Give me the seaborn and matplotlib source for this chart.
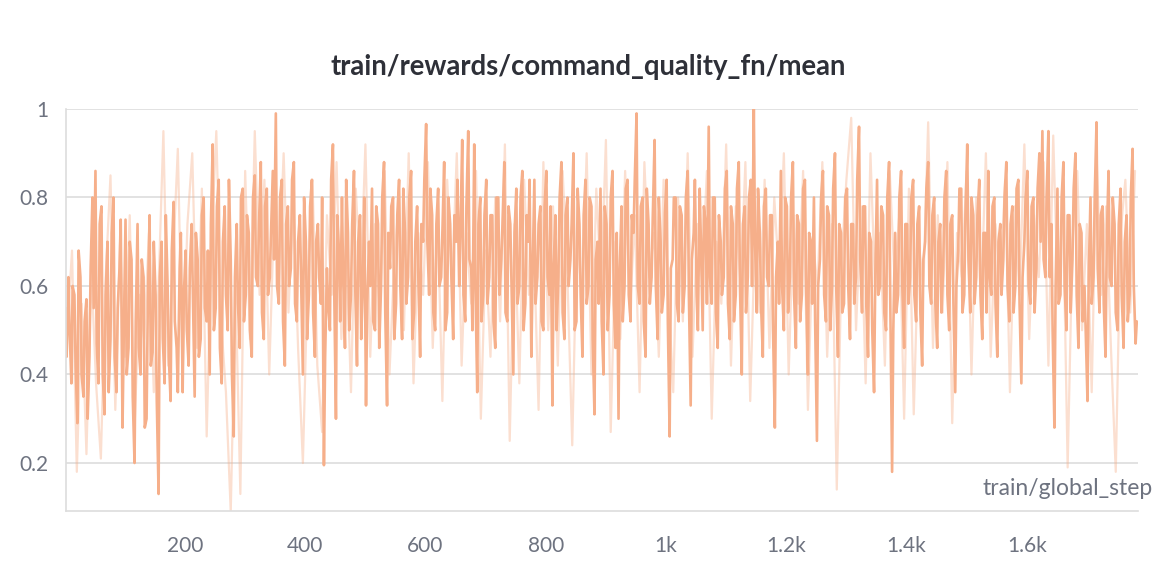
import numpy as np
import pandas as pd
import seaborn as sns
import matplotlib.pyplot as plt

# passos registados (linha forte a cada 5 passos em duas séries intercaladas, linha fraca a cada 8)
passos_forte_a = list(range(1, 1786, 5))
passos_forte_b = list(range(3, 1786, 5))
passos_fraco = list(range(4, 1781, 8))

# valores (linha forte, passos 1, 6, 11, ...)
media_forte_a = [
    0.55, 0.62, 0.38, 0.58, 0.29, 0.62, 0.35, 0.57, 0.44, 0.80, 0.86, 0.38, 0.78, 0.31, 0.70, 0.48, 0.80, 0.36, 0.64, 0.28,
    0.75, 0.46, 0.66, 0.20, 0.74, 0.40, 0.62, 0.30, 0.76, 0.45, 0.58, 0.13, 0.70, 0.38, 0.60, 0.34, 0.79, 0.46, 0.64, 0.36,
    0.68, 0.42, 0.74, 0.35, 0.66, 0.48, 0.80, 0.52, 0.40, 0.92, 0.55, 0.84, 0.38, 0.78, 0.50, 0.66, 0.26, 0.74, 0.46, 0.82,
    0.58, 0.72, 0.44, 0.85, 0.60, 0.88, 0.48, 0.82, 0.62, 0.86, 0.99, 0.56, 0.84, 0.42, 0.78, 0.64, 0.88, 0.52, 0.76, 0.40,
    0.70, 0.58, 0.84, 0.44, 0.74, 0.56, 0.195, 0.64, 0.50, 0.92, 0.30, 0.68, 0.80, 0.46, 0.72, 0.58, 0.86, 0.42, 0.76, 0.62,
    0.33, 0.70, 0.82, 0.50, 0.74, 0.60, 0.88, 0.33, 0.64, 0.80, 0.56, 0.84, 0.48, 0.72, 0.62, 0.86, 0.54, 0.78, 0.44, 0.70,
    0.966, 0.58, 0.76, 0.50, 0.82, 0.62, 0.88, 0.54, 0.74, 0.48, 0.70, 0.60, 0.93, 0.52, 0.95, 0.64, 0.92, 0.36, 0.80, 0.58,
    0.84, 0.62, 0.76, 0.46, 0.80, 0.66, 0.88, 0.52, 0.74, 0.40, 0.82, 0.60, 0.86, 0.56, 0.70, 0.44, 0.84, 0.62, 0.78, 0.50,
    0.86, 0.58, 0.33, 0.76, 0.62, 0.88, 0.48, 0.80, 0.66, 0.90, 0.52, 0.74, 0.44, 0.84, 0.60, 0.78, 0.31, 0.70, 0.82, 0.40,
    0.74, 0.58, 0.86, 0.46, 0.30, 0.78, 0.60, 0.84, 0.52, 0.72, 0.99, 0.56, 0.80, 0.44, 0.74, 0.62, 0.93, 0.48, 0.70, 0.58,
    0.84, 0.26, 0.66, 0.80, 0.52, 0.76, 0.60, 0.86, 0.33, 0.72, 0.58, 0.82, 0.50, 0.74, 0.96, 0.56, 0.80, 0.46, 0.70, 0.62,
    0.86, 0.48, 0.74, 0.58, 0.88, 0.40, 0.78, 0.62, 0.84, 1.00, 0.54, 0.72, 0.44, 0.82, 0.60, 0.76, 0.28, 0.70, 0.86, 0.50,
    0.78, 0.62, 0.88, 0.46, 0.74, 0.58, 0.84, 0.40, 0.70, 0.80, 0.25, 0.66, 0.86, 0.52, 0.76, 0.60, 0.90, 0.44, 0.72, 0.56,
    0.82, 0.48, 0.74, 0.62, 0.96, 0.54, 0.78, 0.44, 0.70, 0.36, 0.84, 0.60, 0.76, 0.50, 0.88, 0.18, 0.72, 0.58, 0.86, 0.46,
    0.74, 0.62, 0.84, 0.52, 0.78, 0.42, 0.70, 0.88, 0.56, 0.80, 0.46, 0.74, 0.64, 0.86, 0.50, 0.76, 0.36, 0.68, 0.82, 0.58,
    0.92, 0.54, 0.76, 0.62, 0.84, 0.48, 0.72, 0.86, 0.58, 0.80, 0.44, 0.74, 0.66, 0.88, 0.52, 0.78, 0.60, 0.84, 0.38, 0.70,
    0.86, 0.56, 0.80, 0.64, 0.90, 0.95, 0.62, 0.95, 0.74, 0.28, 0.82, 0.58, 0.88, 0.50, 0.76, 0.66, 0.90, 0.46, 0.72, 0.60,
    0.34, 0.80, 0.62, 0.97, 0.54, 0.78, 0.44, 0.86, 0.60, 0.74, 0.50, 0.82, 0.46, 0.76, 0.58, 0.91, 0.47,
]

# valores (linha forte, passos 3, 8, 13, ...)
media_forte_b = [
    0.44, 0.50, 0.60, 0.42, 0.68, 0.40, 0.52, 0.30, 0.64, 0.55, 0.47, 0.74, 0.40, 0.58, 0.36, 0.72, 0.44, 0.55, 0.75, 0.48,
    0.40, 0.70, 0.35, 0.52, 0.46, 0.66, 0.28, 0.55, 0.42, 0.70, 0.34, 0.62, 0.48, 0.76, 0.44, 0.68, 0.52, 0.36, 0.72, 0.58,
    0.50, 0.64, 0.58, 0.72, 0.44, 0.76, 0.55, 0.68, 0.74, 0.50, 0.78, 0.46, 0.70, 0.58, 0.84, 0.40, 0.62, 0.56, 0.80, 0.52,
    0.76, 0.50, 0.80, 0.62, 0.74, 0.54, 0.78, 0.58, 0.72, 0.66, 0.60, 0.80, 0.52, 0.74, 0.60, 0.84, 0.56, 0.70, 0.62, 0.80,
    0.48, 0.78, 0.54, 0.70, 0.62, 0.80, 0.44, 0.56, 0.84, 0.60, 0.76, 0.52, 0.62, 0.84, 0.50, 0.74, 0.60, 0.70, 0.48, 0.80,
    0.56, 0.60, 0.52, 0.78, 0.46, 0.80, 0.54, 0.72, 0.78, 0.48, 0.76, 0.60, 0.82, 0.56, 0.80, 0.48, 0.70, 0.62, 0.74, 0.84,
    0.70, 0.82, 0.54, 0.74, 0.60, 0.72, 0.50, 0.80, 0.62, 0.76, 0.84, 0.72, 0.58, 0.78, 0.66, 0.50, 0.60, 0.74, 0.52, 0.76,
    0.56, 0.76, 0.52, 0.80, 0.58, 0.74, 0.54, 0.78, 0.60, 0.72, 0.56, 0.80, 0.50, 0.76, 0.84, 0.62, 0.56, 0.74, 0.52, 0.78,
    0.62, 0.78, 0.64, 0.50, 0.80, 0.54, 0.76, 0.60, 0.74, 0.50, 0.82, 0.58, 0.76, 0.56, 0.80, 0.48, 0.66, 0.56, 0.52, 0.78,
    0.50, 0.80, 0.56, 0.72, 0.64, 0.52, 0.82, 0.58, 0.76, 0.84, 0.60, 0.78, 0.52, 0.82, 0.56, 0.76, 0.60, 0.80, 0.54, 0.76,
    0.52, 0.64, 0.80, 0.56, 0.78, 0.54, 0.80, 0.58, 0.66, 0.84, 0.50, 0.70, 0.78, 0.56, 0.62, 0.80, 0.54, 0.76, 0.58, 0.82,
    0.56, 0.78, 0.52, 0.82, 0.60, 0.74, 0.54, 0.80, 0.60, 0.70, 0.82, 0.56, 0.78, 0.62, 0.76, 0.50, 0.62, 0.56, 0.60, 0.80,
    0.54, 0.80, 0.58, 0.76, 0.52, 0.82, 0.60, 0.72, 0.56, 0.52, 0.60, 0.80, 0.58, 0.78, 0.50, 0.82, 0.60, 0.74, 0.54, 0.80,
    0.60, 0.74, 0.56, 0.84, 0.66, 0.78, 0.56, 0.72, 0.50, 0.62, 0.58, 0.78, 0.54, 0.80, 0.56, 0.50, 0.54, 0.80, 0.60, 0.74,
    0.56, 0.80, 0.58, 0.74, 0.54, 0.66, 0.82, 0.60, 0.76, 0.56, 0.70, 0.54, 0.80, 0.58, 0.74, 0.56, 0.60, 0.82, 0.54, 0.76,
    0.66, 0.80, 0.56, 0.76, 0.58, 0.72, 0.54, 0.62, 0.78, 0.56, 0.70, 0.58, 0.80, 0.60, 0.74, 0.54, 0.82, 0.56, 0.62, 0.80,
    0.60, 0.78, 0.54, 0.82, 0.70, 0.66, 0.80, 0.62, 0.50, 0.60, 0.56, 0.80, 0.60, 0.76, 0.54, 0.82, 0.58, 0.74, 0.52, 0.50,
    0.62, 0.56, 0.80, 0.64, 0.76, 0.56, 0.70, 0.62, 0.80, 0.54, 0.74, 0.58, 0.70, 0.52, 0.80, 0.60, 0.52,
]

# valores (linha fraca, por baixo)
media_fraco = [
    0.50, 0.68, 0.18, 0.56, 0.22, 0.64, 0.38, 0.21, 0.62, 0.85, 0.32, 0.70, 0.44, 0.76, 0.28, 0.58, 0.48, 0.72, 0.36, 0.60, 0.95, 0.42, 0.66, 0.91, 0.40,
    0.74, 0.90, 0.46, 0.82, 0.26, 0.70, 0.95, 0.52, 0.36, 0.09, 0.60, 0.13, 0.86, 0.48, 0.95, 0.58, 0.84, 0.40, 0.76, 0.62, 0.90, 0.54, 0.80, 0.46, 0.20,
    0.62, 0.84, 0.42, 0.27, 0.76, 0.58, 0.88, 0.48, 0.70, 0.36, 0.82, 0.60, 0.92, 0.44, 0.74, 0.54, 0.86, 0.40, 0.66, 0.80, 0.50, 0.90, 0.38, 0.72, 0.58,
    0.88, 0.46, 0.76, 0.34, 0.84, 0.60, 0.90, 0.42, 0.72, 0.56, 0.86, 0.30, 0.68, 0.44, 0.80, 0.52, 0.92, 0.25, 0.74, 0.38, 0.84, 0.58, 0.70, 0.32, 0.88,
    0.50, 0.78, 0.42, 0.86, 0.62, 0.24, 0.74, 0.56, 0.90, 0.40, 0.82, 0.60, 0.93, 0.27, 0.70, 0.48, 0.86, 0.54, 0.76, 0.36, 0.88, 0.62, 0.72, 0.44, 0.84,
    0.58, 0.36, 0.80, 0.52, 0.90, 0.44, 0.74, 0.62, 0.86, 0.30, 0.70, 0.56, 0.92, 0.42, 0.78, 0.60, 0.88, 0.34, 0.72, 0.54, 0.84, 0.46, 0.80, 0.62, 0.90,
    0.40, 0.76, 0.56, 0.86, 0.32, 0.70, 0.60, 0.88, 0.44, 0.74, 0.14, 0.66, 0.84, 0.98, 0.50, 0.78, 0.38, 0.90, 0.58, 0.72, 0.42, 0.86, 0.62, 0.76, 0.30,
    0.82, 0.31, 0.70, 0.60, 0.97, 0.46, 0.76, 0.54, 0.88, 0.29, 0.72, 0.62, 0.86, 0.40, 0.80, 0.56, 0.90, 0.44, 0.74, 0.60, 0.84, 0.36, 0.78, 0.58, 0.92,
    0.48, 0.76, 0.62, 0.88, 0.42, 0.94, 0.56, 0.80, 0.19, 0.70, 0.86, 0.50, 0.74, 0.36, 0.90, 0.58, 0.78, 0.46, 0.18, 0.72, 0.84, 0.54, 0.86,
]

ticks_x = [200, 400, 600, 800, 1000, 1200, 1400, 1600]
rotulos_x = ["200", "400", "600", "800", "1k", "1.2k", "1.4k", "1.6k"]
ticks_y = [0.2, 0.4, 0.6, 0.8, 1.0]
rotulos_y = ["0.2", "0.4", "0.6", "0.8", "1"]

df_forte = pd.concat([
    pd.DataFrame({"step": passos_forte_a, "valor": media_forte_a}),
    pd.DataFrame({"step": passos_forte_b, "valor": media_forte_b}),
]).sort_values("step")
df_fraco = pd.DataFrame({"step": passos_fraco, "valor": media_fraco})

sns.set_style("white")
plt.rcParams["font.family"] = ["Lato", "DejaVu Sans"]

cor = "#f6af8a"
cinza = "#dddddd"
texto = "#6e7380"

fig = plt.figure(figsize=(11.72, 5.74), dpi=100)
ax = fig.add_axes([66 / 1172, 1 - 511 / 574, (1138 - 66) / 1172, (511 - 109) / 574])

sns.lineplot(data=df_fraco, x="step", y="valor", ax=ax, color=cor, alpha=0.4, linewidth=1.6)
sns.lineplot(data=df_forte, x="step", y="valor", ax=ax, color=cor, linewidth=1.9, sort=False)

ax.set_xlim(2, 1785)
ax.set_ylim(0.0915, 1.0)
ax.set_xticks(ticks_x)
ax.set_xticklabels(rotulos_x)
ax.set_yticks(ticks_y)
ax.set_yticklabels(rotulos_y)
ax.set_xlabel("")
ax.set_ylabel("")

ax.grid(axis="y", color=cinza, linewidth=1.2)
ax.set_axisbelow(True)
for lado in ["top", "right"]:
    ax.spines[lado].set_visible(False)
for lado in ["left", "bottom"]:
    ax.spines[lado].set_color(cinza)
    ax.spines[lado].set_linewidth(1.2)

ax.tick_params(axis="y", length=6.5, width=1.2, color=cinza, labelcolor=texto, labelsize=15, pad=6)
ax.tick_params(axis="x", length=5.8, width=1.2, color=cinza, labelcolor=texto, labelsize=15, pad=12)

ax.text(1.0135, 0.03, "train/global_step", transform=ax.transAxes, ha="right", va="bottom",
        fontsize=16.5, color=texto)

fig.text(0.5015, 0.883, "train/rewards/command_quality_fn/mean", ha="center", va="center",
         fontsize=19.8, fontweight="bold", color="#2e3038")

fig.savefig("out.png", dpi=100)
